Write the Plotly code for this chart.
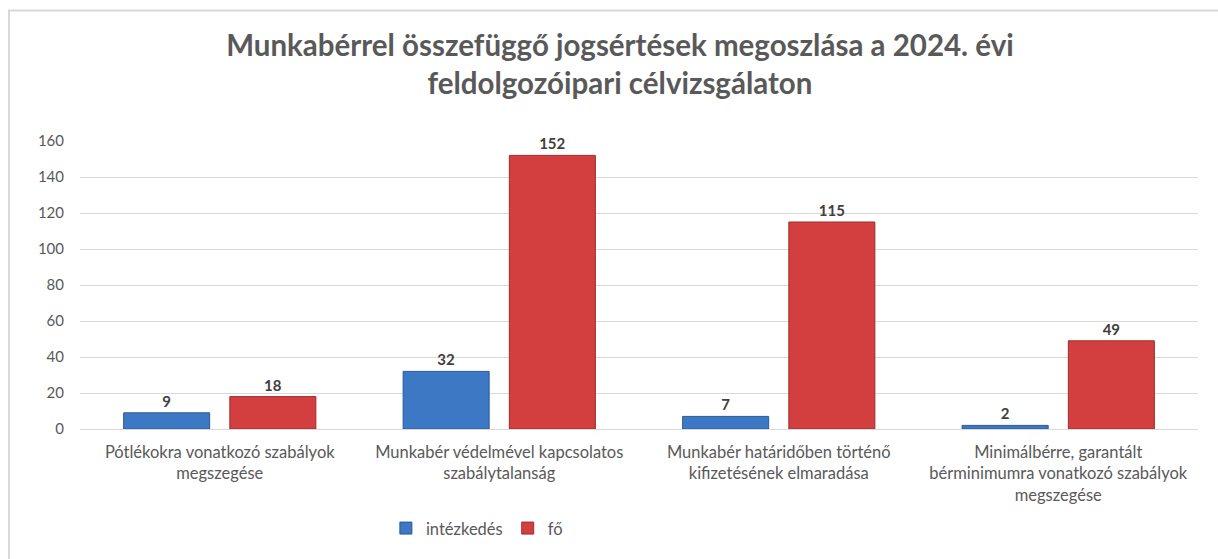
import plotly.graph_objects as go

# categories and series
categories = [
    "Pótlékokra vonatkozó szabályok<br>megszegése",
    "Munkabér védelmével kapcsolatos<br>szabálytalanság",
    "Munkabér határidőben történő<br>kifizetésének elmaradása",
    "Minimálbérre, garantált<br>bérminimumra vonatkozó szabályok<br>megszegése",
]
intezkedes = [9, 32, 7, 2]
fo = [18, 152, 115, 49]
y_ticks = [0, 20, 40, 60, 80, 100, 120, 140, 160]

font_name = "Lato"
grey = "#595959"
label_font = dict(family=font_name, size=15, color="#404040", weight="bold")

fig = go.Figure()
fig.add_trace(go.Bar(
    x=categories, y=intezkedes, name="intézkedés",
    marker=dict(color="#3C78C3", line=dict(color="#2B5A96", width=1)),
    text=intezkedes, textposition="outside", cliponaxis=False,
    textfont=label_font,
))
fig.add_trace(go.Bar(
    x=categories, y=fo, name="fő",
    marker=dict(color="#D33E3E", line=dict(color="#A12C2C", width=1)),
    text=fo, textposition="outside", cliponaxis=False,
    textfont=label_font,
))

fig.update_xaxes(
    showline=True, linecolor="#D9D9D9", linewidth=1,
    ticks="outside", ticklen=8, tickcolor="white",
    tickfont=dict(family=font_name, size=16.5, color=grey),
)
fig.update_yaxes(
    range=[0, 160], tickvals=y_ticks,
    showgrid=True, gridcolor="#D9D9D9", gridwidth=1,
    zeroline=False, showline=False,
    ticks="outside", ticklen=12, tickcolor="white",
    tickfont=dict(family=font_name, size=15, color=grey),
)

# chart frame like the Excel chart area
fig.add_shape(
    type="rect", xref="paper", yref="paper",
    x0=-0.0635, x1=1.03, y0=-0.49, y1=1.453,
    line=dict(color="#D9D9D9", width=2), layer="below",
)

fig.update_layout(
    width=1218, height=559,
    margin=dict(l=80, r=20, t=141, b=130),
    plot_bgcolor="white", paper_bgcolor="white",
    barmode="group", bargap=0.24, bargroupgap=0.19,
    title=dict(
        text="Munkabérrel összefüggő jogsértések megoszlása a 2024. évi<br>feldolgozóipari célvizsgálaton",
        x=0.509, xanchor="center", y=0.9, yanchor="top",
        font=dict(family=font_name, size=29.5, color=grey, weight="bold"),
    ),
    legend=dict(
        orientation="h", x=0.355, xanchor="center", y=-0.345, yanchor="middle",
        font=dict(family=font_name, size=16.5, color=grey),
        itemwidth=30,
    ),
    font=dict(family=font_name),
)

fig.write_html(
    "out.html",
    config={"displayModeBar": False},
    post_script="document.body.style.margin='0';",
)
